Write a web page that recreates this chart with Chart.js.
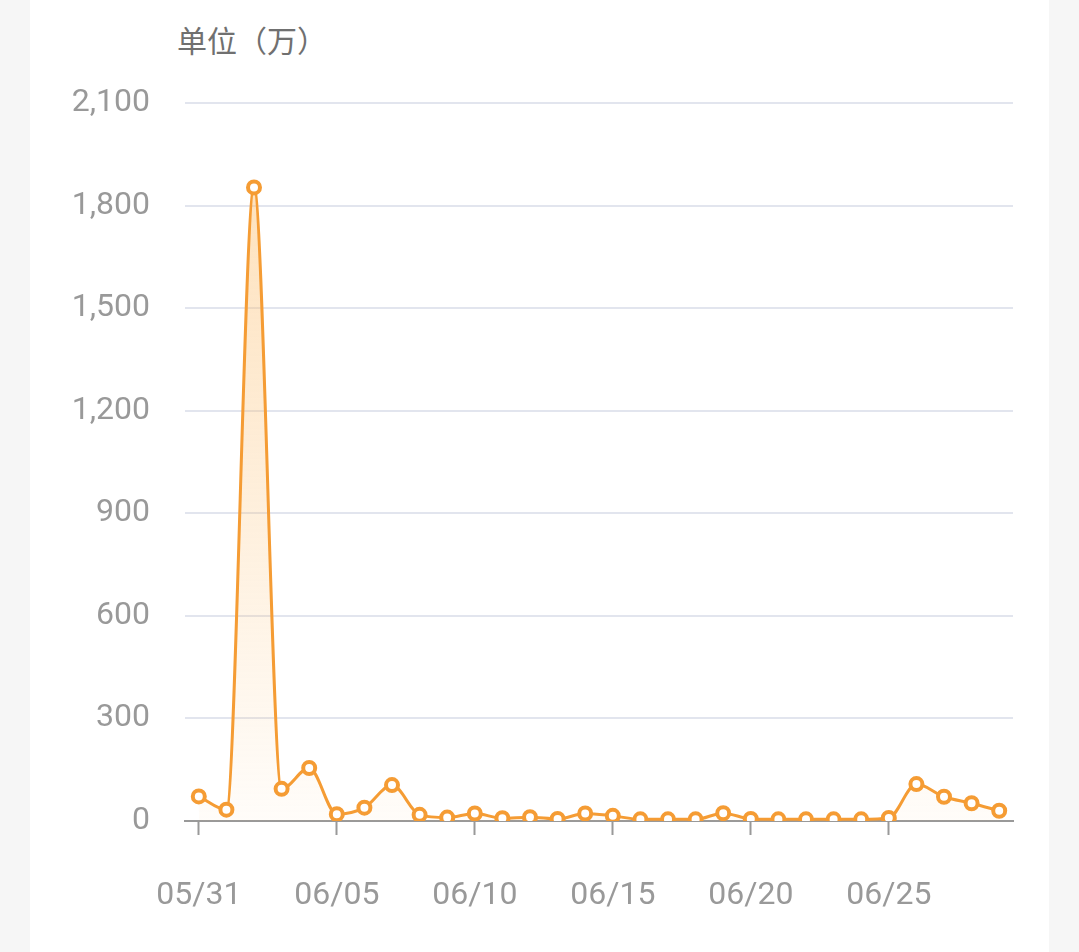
<!DOCTYPE html>
<html>
<head>
<meta charset="utf-8">
<script src="https://cdn.jsdelivr.net/npm/chart.js@4/dist/chart.umd.min.js"></script>
<style>
  html, body { margin: 0; padding: 0; background: #f6f6f6; }
  #panel { position: absolute; left: 30px; top: 0; width: 1019px; height: 952px; background: #ffffff; }
  #unit { position: absolute; left: 147px; top: 22px; font: 30px/34px "Noto Sans CJK SC", sans-serif; color: #707070; }
  #wrap { position: absolute; left: 0; top: 0; width: 1019px; height: 952px; }
</style>
</head>
<body>
<div id="panel">
  <div id="unit">单位（万）</div>
  <div id="wrap"><canvas id="chartCanvas"></canvas></div>
</div>
<script>
// dates 05/31 .. 06/29
const dateLabels = ['05/31', '06/01', '06/02', '06/03', '06/04', '06/05', '06/06', '06/07', '06/08', '06/09',
  '06/10', '06/11', '06/12', '06/13', '06/14', '06/15', '06/16', '06/17', '06/18', '06/19',
  '06/20', '06/21', '06/22', '06/23', '06/24', '06/25', '06/26', '06/27', '06/28', '06/29'];

// values in 万
const amounts = [72, 33, 1853, 94, 155, 20, 39, 105, 18, 10,
  22, 8, 11, 6, 22, 15, 5, 5, 5, 23,
  6, 5, 5, 5, 5, 9, 108, 71, 52, 30];

const yTicks = [0, 300, 600, 900, 1200, 1500, 1800, 2100];

const orange = '#f59c34';

function fillGradient(ctx) {
  const area = ctx.chart.chartArea;
  if (!area) return 'rgba(245,156,52,0.1)';
  const g = ctx.chart.ctx.createLinearGradient(0, area.top, 0, area.bottom);
  g.addColorStop(0, 'rgba(252,190,110,0.5)');
  g.addColorStop(1, 'rgba(252,190,110,0.04)');
  return g;
}

new Chart(document.getElementById('chartCanvas'), {
  type: 'line',
  data: {
    labels: dateLabels,
    datasets: [{
      data: amounts,
      borderColor: orange,
      borderWidth: 3,
      backgroundColor: fillGradient,
      fill: 'origin',
      cubicInterpolationMode: 'monotone',
      pointRadius: 6,
      pointBorderWidth: 4,
      pointBackgroundColor: '#ffffff',
      pointBorderColor: orange
    }]
  },
  options: {
    responsive: true,
    maintainAspectRatio: false,
    animation: false,
    locale: 'en-US',
    layout: { padding: { left: 0, right: 36, top: 103, bottom: 0 } },
    plugins: {
      legend: { display: false },
      tooltip: { enabled: false }
    },
    scales: {
      x: {
        offset: true,
        afterFit: function (scale) { scale.height = 131; },
        grid: {
          drawOnChartArea: false,
          drawTicks: true,
          tickLength: 14,
          tickWidth: 2,
          tickColor: '#999999',
          offset: false
        },
        border: { display: true, color: '#999999', width: 2 },
        ticks: {
          autoSkip: false,
          maxRotation: 0,
          padding: 42,
          color: '#999999',
          font: { family: 'Roboto', size: 32 },
          callback: function (value, index) {
            return index % 5 === 0 ? dateLabels[index] : null;
          }
        }
      },
      y: {
        min: 0,
        max: 2100,
        afterFit: function (scale) { scale.width = 155; },
        afterBuildTicks: function (scale) {
          scale.ticks = yTicks.map(function (v) { return { value: v }; });
        },
        grid: { color: '#e2e5ee', lineWidth: 2, drawTicks: false },
        border: { display: false },
        ticks: {
          padding: 35,
          color: '#999999',
          font: { family: 'Roboto', size: 32 }
        }
      }
    }
  }
});
</script>
</body>
</html>
